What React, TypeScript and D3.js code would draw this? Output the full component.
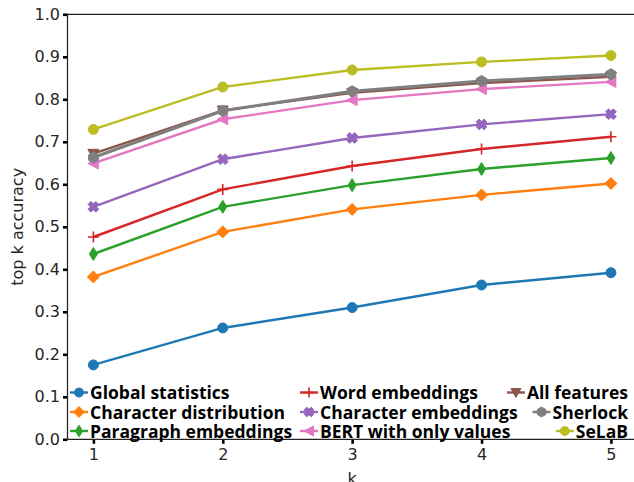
import React, { useEffect, useRef } from "react";
import * as d3 from "d3";

const ks = [1, 2, 3, 4, 5];
const yTicks = [0, 0.1, 0.2, 0.3, 0.4, 0.5, 0.6, 0.7, 0.8, 0.9, 1.0];

const globalStats = [0.175, 0.262, 0.31, 0.363, 0.392];
const charDist = [0.382, 0.488, 0.541, 0.575, 0.602];
const paragraphEmb = [0.436, 0.547, 0.598, 0.636, 0.662];
const wordEmb = [0.476, 0.588, 0.643, 0.683, 0.712];
const charEmb = [0.547, 0.659, 0.709, 0.741, 0.765];
const allFeatures = [0.672, 0.774, 0.815, 0.838, 0.853];
const bertValues = [0.649, 0.753, 0.798, 0.824, 0.841];
const sherlock = [0.663, 0.773, 0.819, 0.843, 0.859];
const selab = [0.729, 0.829, 0.869, 0.888, 0.903];

const seriesNames = [
  "Global statistics",
  "Character distribution",
  "Paragraph embeddings",
  "Word embeddings",
  "Character embeddings",
  "All features",
  "BERT with only values",
  "Sherlock",
  "SeLaB",
];
const seriesValues = [globalStats, charDist, paragraphEmb, wordEmb, charEmb, allFeatures, bertValues, sherlock, selab];
const seriesColors = ["#1f77b4", "#ff7f0e", "#2ca02c", "#d62728", "#9467bd", "#8c564b", "#e377c2", "#7f7f7f", "#bcbd22"];
const seriesMarkers = ["o", "D", "d", "+", "X", "v", "<", "h", "8"];

const legendColumns = [
  ["Global statistics", "Character distribution", "Paragraph embeddings"],
  ["Word embeddings", "Character embeddings", "BERT with only values"],
  ["All features", "Sherlock", "SeLaB"],
];

function markerPath(type: string, s: number): string {
  switch (type) {
    case "o":
    case "8": {
      return d3.symbol(d3.symbolCircle, Math.PI * s * s)() as string;
    }
    case "D":
      return `M0,${-s}L${s},0L0,${s}L${-s},0Z`;
    case "d":
      return `M0,${-s}L${0.62 * s},0L0,${s}L${-0.62 * s},0Z`;
    case "+":
      return `M${-s},0H${s}M0,${-s}V${s}`;
    case "X": {
      const t = s * 0.38;
      const pts: [number, number][] = [
        [-t, -s], [t, -s], [t, -t], [s, -t], [s, t], [t, t], [t, s], [-t, s], [-t, t], [-s, t], [-s, -t], [-t, -t],
      ];
      const c = Math.SQRT1_2;
      const r = pts.map(([x, y]) => [x * c - y * c, x * c + y * c]);
      return "M" + r.map((p) => p[0].toFixed(2) + "," + p[1].toFixed(2)).join("L") + "Z";
    }
    case "<":
      return `M${-s},0L${s * 0.9},${-s}L${s * 0.9},${s}Z`;
    case "v":
      return `M${-s},${-s * 0.8}L${s},${-s * 0.8}L0,${s}Z`;
    case "h": {
      const pts = d3.range(6).map((i) => {
        const a = (Math.PI / 3) * i - Math.PI / 2;
        return [s * Math.cos(a), s * Math.sin(a)];
      });
      return "M" + pts.map((p) => p[0].toFixed(2) + "," + p[1].toFixed(2)).join("L") + "Z";
    }
  }
  return "";
}

const markerSize: Record<string, number> = { o: 5, "8": 5, D: 6, d: 6.5, "+": 5.5, X: 5.5, "<": 5.5, v: 5.5, h: 5.5 };

function drawMarker(g: any, type: string, color: string, x: number, y: number, scale = 1) {
  const s = markerSize[type] * scale;
  const p = g.append("path").attr("d", markerPath(type, s)).attr("transform", `translate(${x},${y})`);
  if (type === "+") {
    p.attr("fill", "none").attr("stroke", color).attr("stroke-width", 1.6);
  } else {
    p.attr("fill", color).attr("stroke", color).attr("stroke-width", 1);
  }
}

export default function App() {
  const ref = useRef<SVGSVGElement>(null);

  useEffect(() => {
    const svg = d3.select(ref.current);
    svg.selectAll("*").remove();
    const W = 634;
    const H = 482;
    const left = 67.5;
    const top = 14.3;
    const bottom = 439.3;
    const x = d3.scaleLinear().domain([0.8, 5.2]).range([left, 636.8]);
    const y = d3.scaleLinear().domain([0, 1]).range([bottom, top]);

    svg.append("rect").attr("width", W).attr("height", H).attr("fill", "white");

    const yAxis = d3.axisLeft(y).tickValues(yTicks).tickFormat(d3.format(".1f")).tickSize(4.5).tickPadding(3);
    const ga = svg.append("g").attr("transform", `translate(${left},0)`).call(yAxis);
    ga.select(".domain").remove();
    ga.selectAll(".tick line").attr("stroke", "#000").attr("stroke-width", 2.6);
    ga.selectAll(".tick text")
      .attr("fill", "#262626")
      .style("font-family", "DejaVu Sans")
      .style("font-size", "16px");

    const xAxis = d3.axisBottom(x).tickValues(ks).tickFormat(d3.format("d")).tickSize(4.5).tickPadding(5);
    const gx = svg.append("g").attr("transform", `translate(0,${bottom})`).call(xAxis);
    gx.select(".domain").remove();
    gx.selectAll(".tick line").attr("stroke", "#000").attr("stroke-width", 2.6);
    gx.selectAll(".tick text")
      .attr("fill", "#262626")
      .style("font-family", "DejaVu Sans")
      .style("font-size", "16px");

    svg.append("path")
      .attr("d", `M${left},${bottom}V${top}H${x.range()[1]}V${bottom}Z`)
      .attr("fill", "none")
      .attr("stroke", "#222")
      .attr("stroke-width", 1.25);

    svg.append("text")
      .attr("transform", `translate(23,${(top + bottom) / 2}) rotate(-90)`)
      .attr("text-anchor", "middle")
      .attr("fill", "#262626")
      .style("font-family", "DejaVu Sans")
      .style("font-size", "16px")
      .text("top k accuracy");
    svg.append("text")
      .attr("x", x(3))
      .attr("y", 484)
      .attr("text-anchor", "middle")
      .attr("fill", "#262626")
      .style("font-family", "DejaVu Sans")
      .style("font-size", "16px")
      .text("k");

    const line = d3.line<number>().x((_, i) => x(ks[i])).y((d) => y(d));
    seriesValues.forEach((vals, i) => {
      const g = svg.append("g");
      g.append("path")
        .attr("d", line(vals))
        .attr("fill", "none")
        .attr("stroke", seriesColors[i])
        .attr("stroke-width", seriesMarkers[i] === "h" ? 3 : 2.4);
      vals.forEach((v, j) => drawMarker(g, seriesMarkers[i], seriesColors[i], x(ks[j]), y(v)));
    });

    const lg = svg.append("g");
    const rowBase = [399, 418.5, 437.5];
    const colX = [79, 309];
    legendColumns.forEach((col, c) => {
      col.forEach((name, r) => {
        const idx = seriesNames.indexOf(name);
        const color = seriesColors[idx];
        const t = lg.append("text")
          .attr("y", rowBase[r])
          .attr("fill", "#000")
          .style("font-family", "Open Sans")
          .style("font-weight", "bold")
          .style("font-size", "17.5px")
          .text(name);
        let cx: number;
        if (c < 2) {
          cx = colX[c];
          t.attr("x", cx + 11);
        } else {
          t.attr("x", 628).attr("text-anchor", "end");
          const bb = (t.node() as SVGTextElement).getBBox();
          cx = bb.x - 11;
        }
        const cy = rowBase[r] - 6.5;
        lg.append("line")
          .attr("x1", cx - 9).attr("x2", cx + 9)
          .attr("y1", cy).attr("y2", cy)
          .attr("stroke", color).attr("stroke-width", 2.4);
        drawMarker(lg, seriesMarkers[idx], color, cx, cy, 0.9);
      });
    });
  }, []);

  return <svg ref={ref} width={634} height={482} style={{ position: "absolute", left: 0, top: 0 }} />;
}
